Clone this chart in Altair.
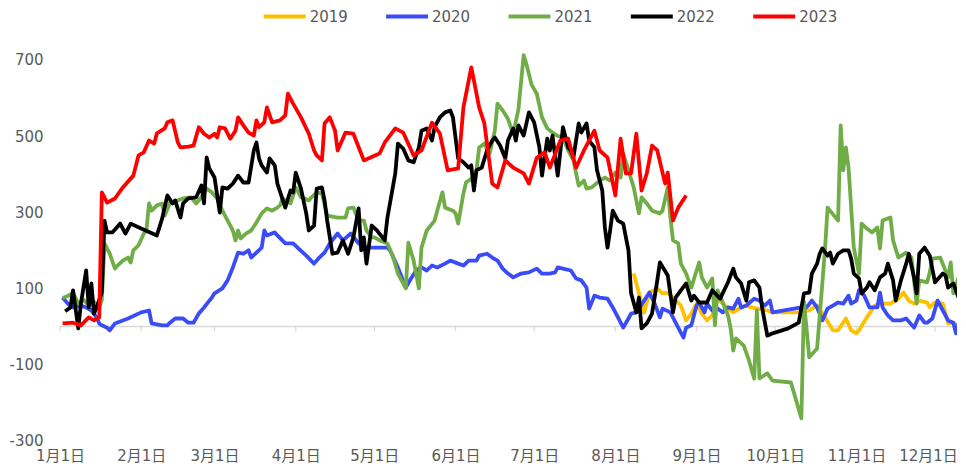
import json
import altair as alt
import pandas as pd

# ---------------- data (day index from Jan 1, value) ----------------
YEARS = ["2019", "2020", "2021", "2022", "2023"]
COLORS = ["#FFC000", "#3A4CF5", "#70AD47", "#000000", "#FF0000"]

DAY_2019 = [219, 221, 223, 225, 228, 230, 232, 234, 237, 239, 241, 243, 245, 247, 249, 251, 253, 255, 257, 260,
            262, 264, 266, 270, 272, 278, 282, 286, 289, 292, 295, 297, 300, 302, 304, 305, 308, 311, 314, 317,
            320, 322, 324, 326, 328, 331, 332, 334, 337, 339, 341, 343, 344, 346]
VAL_2019 = [139, 87, 37, 89, 100, 87, 89, 76, 55, 16, 34, 60, 34, 16, 29, 73, 60, 47, 37, 50,
            55, 50, 47, 42, 37, 37, 37, 42, 55, 24, -10, -10, 21, -10, -18, -10, 24, 55, 60, 60,
            73, 89, 68, 60, 68, 63, 50, 63, 60, 8, 10, -5, -3, 10]

DAY_2020 = [1, 3, 5, 8, 10, 12, 14, 15, 16, 18, 19, 21, 26, 31, 34, 35, 39, 41, 42, 44,
            47, 49, 51, 53, 55, 58, 59, 62, 64, 66, 68, 70, 72, 73, 75, 77, 78, 79, 82, 83,
            86, 89, 91, 94, 97, 99, 101, 103, 106, 108, 111, 114, 117, 120, 125, 126, 129, 132, 134, 136,
            138, 140, 142, 144, 147, 149, 152, 154, 156, 159, 160, 163, 165, 167, 169, 171, 173, 176, 179, 182,
            184, 187, 189, 190, 192, 195, 197, 199, 201, 202, 204, 206, 209, 211, 213, 215, 217, 218, 220, 223,
            225, 227, 229, 230, 233, 235, 238, 239, 241, 243, 244, 246, 247, 249, 251, 253, 255, 257, 259, 260,
            262, 265, 267, 269, 271, 272, 283, 285, 287, 289, 291, 293, 295, 297, 299, 301, 302, 304, 305, 307,
            309, 312, 313, 314, 316, 318, 321, 323, 326, 328, 330, 331, 333, 335, 337, 339, 341, 342, 344, 346]
VAL_2020 = [76, 60, 50, 55, 50, 42, 24, 8, 3, -3, -10, 8, 21, 37, 42, 8, 3, 3, 10, 21,
            21, 10, 10, 34, 50, 76, 87, 100, 121, 155, 194, 191, 200, 181, 194, 207, 252, 239, 247, 239,
            218, 218, 205, 186, 165, 181, 194, 218, 244, 226, 244, 218, 207, 207, 207, 200, 155, 102, 126, 147,
            155, 147, 160, 155, 165, 173, 165, 160, 173, 173, 186, 191, 181, 173, 152, 139, 129, 139, 142, 152,
            139, 139, 142, 155, 152, 147, 126, 121, 102, 47, 81, 76, 73, 50, 24, -3, 21, 34, 37, 68,
            89, 60, 24, 47, 37, 10, -29, -3, 3, 55, 63, 37, 60, 42, 47, 37, 50, 47, 73, 50,
            55, 73, 68, 55, 68, 37, 50, 50, 68, 50, 16, 47, 55, 63, 60, 81, 60, 68, 95, 81,
            50, 50, 89, 50, 29, 16, 16, 21, -3, 29, 10, 10, 21, 68, 42, 16, 10, -18, 34, 60]

DAY_2021 = [1, 3, 5, 7, 9, 11, 13, 15, 16, 17, 19, 21, 22, 24, 26, 27, 28, 30, 32, 33,
            34, 35, 37, 39, 40, 42, 45, 47, 50, 52, 54, 56, 58, 60, 62, 64, 66, 67, 68, 69,
            71, 73, 75, 77, 79, 81, 83, 84, 85, 88, 90, 92, 95, 96, 98, 100, 102, 106, 109, 110,
            112, 114, 116, 117, 119, 120, 122, 125, 127, 129, 131, 132, 133, 135, 137, 138, 140, 143, 144, 146,
            147, 150, 151, 152, 154, 155, 157, 159, 160, 162, 164, 166, 167, 169, 171, 173, 175, 177, 178, 180,
            182, 184, 186, 188, 190, 192, 194, 196, 197, 198, 200, 201, 203, 206, 208, 210, 212, 214, 215, 217,
            219, 221, 222, 224, 226, 229, 230, 232, 233, 234, 236, 237, 239, 241, 243, 244, 245, 247, 249, 250,
            251, 253, 255, 256, 257, 258, 261, 263, 265, 266, 267, 270, 272, 279, 283, 284, 286, 289, 292, 293,
            297, 298, 299, 300, 301, 303, 305, 306, 308, 310, 312, 313, 314, 317, 318, 320, 323, 325, 327, 328,
            331, 332, 333, 336, 339, 340, 341, 343, 345]
VAL_2021 = [75, 80, 88, 60, 70, 55, 65, 50, 70, 218, 191, 152, 160, 173, 181, 168, 200, 213, 244, 252,
            323, 304, 318, 323, 291, 325, 331, 336, 339, 323, 339, 362, 352, 336, 304, 278, 252, 226, 252, 231,
            244, 252, 273, 297, 310, 304, 312, 318, 336, 323, 365, 339, 331, 339, 352, 349, 291, 286, 286, 310,
            312, 278, 278, 252, 234, 234, 226, 218, 186, 139, 113, 100, 220, 173, 100, 207, 252, 278, 304, 352,
            312, 304, 297, 270, 349, 378, 388, 410, 470, 480, 454, 514, 585, 567, 545, 505, 570, 712, 690, 635,
            611, 549, 520, 509, 500, 496, 462, 436, 402, 370, 383, 362, 365, 383, 391, 383, 404, 391, 454, 410,
            365, 297, 339, 323, 304, 297, 304, 365, 286, 226, 218, 165, 139, 102, 147, 168, 129, 102, 126, 3,
            95, 63, 29, -5, -63, -31, -50, -89, -137, 42, -136, -123, -142, -147, -241, 65, -81, -58, 200, 312,
            278, 528, 410, 470, 417, 207, 139, 270, 257, 247, 260, 205, 278, 286, 226, 181, 194, 181, 60, 121,
            116, 142, 178, 181, 129, 168, 87, 129, 95]

DAY_2022 = [2, 4, 5, 7, 8, 10, 11, 12, 13, 14, 16, 17, 18, 20, 23, 25, 27, 31, 37, 39,
            41, 43, 44, 46, 47, 49, 52, 54, 55, 56, 57, 59, 61, 62, 64, 66, 68, 70, 72, 74,
            75, 76, 77, 79, 80, 82, 83, 86, 88, 89, 90, 92, 94, 95, 97, 98, 100, 101, 102, 104,
            106, 108, 110, 112, 114, 115, 116, 117, 119, 121, 124, 125, 128, 129, 131, 133, 135, 137, 138, 140,
            142, 143, 145, 147, 149, 150, 152, 154, 156, 157, 158, 159, 161, 163, 165, 166, 168, 170, 171, 173,
            174, 175, 177, 179, 181, 183, 184, 186, 187, 188, 190, 192, 194, 195, 196, 198, 199, 201, 202, 204,
            205, 207, 208, 209, 210, 211, 213, 215, 217, 218, 220, 221, 222, 224, 226, 228, 229, 232, 234, 235,
            237, 239, 241, 242, 244, 247, 249, 252, 255, 257, 258, 260, 262, 263, 265, 267, 268, 270, 272, 278,
            282, 284, 286, 287, 289, 290, 291, 293, 294, 295, 297, 299, 301, 302, 303, 305, 306, 308, 309, 311,
            313, 315, 316, 318, 319, 321, 323, 324, 326, 327, 328, 330, 332, 334, 337, 338, 339, 341, 343, 344, 346]
VAL_2022 = [40, 50, 95, -5, 60, 147, 50, 113, 34, 50, 90, 278, 247, 247, 270, 244, 270, 257, 239, 283,
            344, 323, 331, 286, 323, 336, 339, 370, 323, 444, 415, 391, 299, 365, 362, 375, 396, 378, 378, 462,
            483, 441, 423, 404, 441, 423, 375, 312, 357, 352, 404, 362, 297, 252, 265, 362, 365, 331, 278, 191,
            194, 226, 191, 234, 310, 200, 234, 165, 265, 252, 226, 286, 402, 480, 467, 436, 431, 470, 514, 520,
            488, 523, 549, 562, 567, 549, 441, 431, 417, 423, 357, 410, 417, 462, 488, 496, 475, 441, 488, 520,
            488, 528, 501, 562, 536, 470, 396, 493, 462, 501, 396, 523, 470, 462, 444, 533, 509, 533, 488, 470,
            410, 357, 260, 207, 252, 304, 278, 270, 200, 87, 37, 76, -5, 8, 34, 121, 168, 134, 37, 76,
            95, 113, 68, 81, 63, 63, 95, 73, 116, 152, 129, 113, 68, 116, 121, 102, 50, -24, -18, -5,
            10, 87, 89, 139, 165, 191, 205, 186, 194, 165, 191, 200, 200, 178, 139, 126, 87, 102, 116, 95,
            129, 139, 165, 121, 68, 121, 165, 191, 129, 87, 191, 207, 186, 116, 139, 134, 102, 113, 76, 63, 121]

DAY_2023 = [1, 5, 8, 11, 13, 14, 15, 16, 18, 21, 24, 28, 30, 32, 34, 36, 37, 40, 41, 43,
            45, 46, 49, 51, 53, 55, 57, 59, 60, 61, 63, 65, 67, 68, 70, 72, 74, 75, 76, 78,
            79, 81, 84, 86, 87, 89, 92, 95, 97, 98, 100, 101, 103, 105, 106, 109, 112, 116, 122, 124,
            128, 131, 135, 138, 142, 145, 148, 152, 154, 157, 158, 160, 162, 165, 167, 170, 173, 177, 179, 182,
            185, 187, 191, 194, 197, 200, 204, 206, 209, 212, 214, 216, 218, 220, 222, 224, 226, 228, 231, 232,
            234, 236, 239]
VAL_2023 = [8, 10, 3, 24, 16, 21, 24, 352, 325, 336, 365, 396, 449, 457, 488, 480, 507, 520, 536, 541,
            483, 470, 472, 475, 523, 506, 496, 506, 496, 523, 520, 493, 514, 549, 528, 509, 501, 541, 523, 536,
            575, 536, 541, 554, 611, 585, 549, 506, 462, 449, 436, 533, 549, 514, 462, 509, 506, 436, 454, 483,
            520, 509, 449, 462, 535, 507, 410, 415, 575, 680, 646, 575, 533, 375, 365, 436, 417, 402, 375, 443,
            457, 417, 488, 493, 417, 462, 514, 462, 443, 344, 493, 402, 402, 506, 357, 402, 475, 462, 375, 404,
            278, 312, 344]

MONTH_DAYS = [0, 31, 59, 90, 120, 151, 181, 212, 243, 273, 304, 334]
MONTH_LABELS = ["1月1日", "2月1日", "3月1日", "4月1日", "5月1日", "6月1日",
                "7月1日", "8月1日", "9月1日", "10月1日", "11月1日", "12月1日"]
Y_TICKS = [-300, -100, 100, 300, 500, 700]

# ---------------- build table ----------------
series = [(YEARS[0], DAY_2019, VAL_2019), (YEARS[1], DAY_2020, VAL_2020),
          (YEARS[2], DAY_2021, VAL_2021), (YEARS[3], DAY_2022, VAL_2022),
          (YEARS[4], DAY_2023, VAL_2023)]
rows = []
for yr, days, vals in series:
    for d, v in zip(days, vals):
        rows.append({"year": yr, "day": d, "value": v})
df = pd.DataFrame(rows)

FONT = "DejaVu Sans, Noto Sans CJK SC, sans-serif"
GRAY = "#595959"
AXIS_GRAY = "#D9D9D9"

label_expr = "{}[indexof({}, datum.value)]".format(
    json.dumps(MONTH_LABELS, ensure_ascii=False), json.dumps(MONTH_DAYS))

X_ENC = alt.X("day:Q",
              scale=alt.Scale(domain=[0, 342.4], nice=False, zero=False),
              axis=alt.Axis(values=MONTH_DAYS, labelExpr=label_expr, domain=False, ticks=False,
                            tickSize=0, grid=False, title=None, labelFont=FONT, labelFontSize=15,
                            labelColor=GRAY, labelPadding=8, labelOverlap=False, labelFlush=False,
                            labelOffset={"condition": {"test": "datum.value == 334", "value": -7},
                                         "value": 0}))
Y_ENC = alt.Y("value:Q",
              scale=alt.Scale(domain=[-300, 720], nice=False, zero=False),
              axis=alt.Axis(values=Y_TICKS, labelExpr="'' + datum.value", domain=False, ticks=False,
                            tickSize=0, grid=False, title=None, labelFont=FONT, labelFontSize=15,
                            labelColor=GRAY, labelPadding=17))

zero_line = alt.Chart(pd.DataFrame({"value": [0]})).mark_rule(
    color=AXIS_GRAY, strokeWidth=1.5).encode(y=Y_ENC)

tick_marks = alt.Chart(pd.DataFrame({"day": MONTH_DAYS, "value": [0] * len(MONTH_DAYS)})).mark_rule(
    color=AXIS_GRAY, strokeWidth=1.2).encode(x=X_ENC, y=Y_ENC, y2=alt.datum(-13))

lines = alt.Chart(df).mark_line(strokeWidth=3.8, clip=True, strokeJoin="round").encode(
    x=X_ENC, y=Y_ENC,
    color=alt.Color("year:N", scale=alt.Scale(domain=YEARS, range=COLORS),
                    legend=alt.Legend(orient="none", legendX=217.5, legendY=-43.4, direction="horizontal",
                                      title=None, symbolType="M-4,0H4", symbolSize=110.25,
                                      symbolStrokeWidth=4, labelFont=FONT, labelFontSize=15,
                                      labelColor=GRAY, labelOffset=17.5, columnPadding=29.5, padding=0)),
)

chart = alt.layer(zero_line, tick_marks, lines).properties(
    width=898, height=389, padding=0, background="white"
).configure_view(stroke=None)

chart.save("out.html", embed_options={"renderer": "svg", "actions": False})
